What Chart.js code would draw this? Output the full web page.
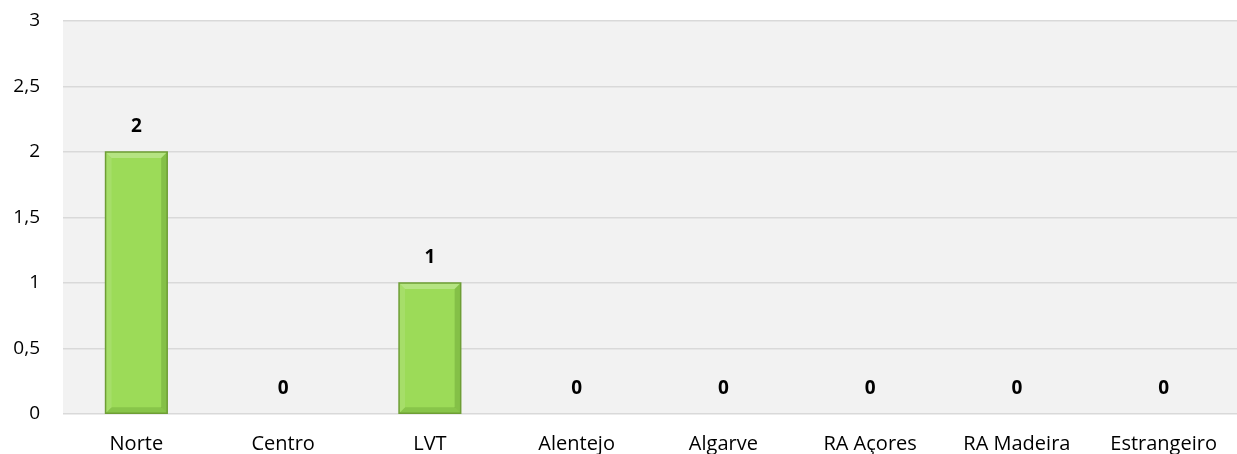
<!DOCTYPE html>
<html><head><meta charset="utf-8">
<script src="https://cdn.jsdelivr.net/npm/chart.js@4/dist/chart.umd.min.js"></script>
<style>html,body{margin:0;padding:0;background:#fff}#wrap{width:1237px;height:454px}</style>
</head><body><div id="wrap"><canvas id="c"></canvas></div>
<script>
const categories = ["Norte","Centro","LVT","Alentejo","Algarve","RA Açores","RA Madeira","Estrangeiro"];
const values = [2,0,1,0,0,0,0,0];
const yTicks = [0,0.5,1,1.5,2,2.5,3];
const yTickLabels = ["0","0,5","1","1,5","2","2,5","3"];

const FONT = "'Open Sans', sans-serif";

const bgPlugin = {
  id:'bg',
  beforeDraw(chart){
    const {ctx, chartArea:a} = chart;
    ctx.save(); ctx.fillStyle='#f2f2f2';
    ctx.fillRect(a.left,a.top,a.right-a.left,a.bottom-a.top);
    ctx.restore();
  }
};
const axisLabelPlugin = {
  id:'axlbl',
  afterDraw(chart){
    const {ctx, chartArea:a} = chart;
    const xs = chart.scales.x, ys = chart.scales.y;
    ctx.save();
    ctx.fillStyle = '#000'; ctx.textBaseline='middle';
    ctx.font = "20px " + FONT; ctx.textAlign='center';
    categories.forEach((c,i)=>{
      ctx.fillText(c, xs.getPixelForTick(i), a.bottom + 30);
    });
    ctx.font = "19px " + FONT; ctx.textAlign='right';
    yTicks.forEach((v,i)=>{
      ctx.fillText(yTickLabels[i], a.left - 23, ys.getPixelForValue(v));
    });
    ctx.restore();
  }
};
const labelPlugin = {
  id:'lbl',
  afterDatasetsDraw(chart){
    const {ctx} = chart;
    const meta = chart.getDatasetMeta(0);
    ctx.save();
    ctx.font = "bold 19px " + FONT;
    ctx.fillStyle = '#000'; ctx.textAlign='center'; ctx.textBaseline='middle';
    meta.data.forEach((bar,i)=>{
      ctx.fillText(String(values[i]), bar.x, bar.y - 25);
    });
    ctx.restore();
  }
};
const bevelPlugin = {
  id:'bevel',
  afterDatasetsDraw(chart){
    const {ctx} = chart;
    const meta = chart.getDatasetMeta(0);
    ctx.save();
    meta.data.forEach((bar,i)=>{
      if(!values[i]) return;
      const l = bar.x - bar.width/2, r = bar.x + bar.width/2, t = bar.y, b = bar.base, d = 6;
      ctx.fillStyle='rgba(255,255,255,0.25)';
      ctx.beginPath(); ctx.moveTo(l,t); ctx.lineTo(r,t); ctx.lineTo(r-d,t+d); ctx.lineTo(l+d,t+d); ctx.closePath(); ctx.fill();
      ctx.fillStyle='rgba(60,110,20,0.25)';
      ctx.beginPath(); ctx.moveTo(r,t); ctx.lineTo(r,b); ctx.lineTo(r-d,b-d); ctx.lineTo(r-d,t+d); ctx.closePath(); ctx.fill();
      ctx.fillStyle='rgba(60,110,20,0.2)';
      ctx.beginPath(); ctx.moveTo(l,b); ctx.lineTo(r,b); ctx.lineTo(r-d,b-d); ctx.lineTo(l+d,b-d); ctx.closePath(); ctx.fill();
      ctx.fillStyle='rgba(255,255,255,0.1)';
      ctx.beginPath(); ctx.moveTo(l,t); ctx.lineTo(l,b); ctx.lineTo(l+d,b-d); ctx.lineTo(l+d,t+d); ctx.closePath(); ctx.fill();
      ctx.strokeStyle='#6e9e35'; ctx.lineWidth=1.5;
      ctx.strokeRect(l,t,r-l,b-t);
    });
    ctx.restore();
  }
};

new Chart(document.getElementById('c'), {
  type:'bar',
  data:{labels:categories, datasets:[{data:values, backgroundColor:'#9cdb58', borderWidth:0, categoryPercentage:1, barPercentage:0.42}]},
  options:{
    responsive:true, maintainAspectRatio:false, animation:false,
    layout:{padding:{top:21,right:0,left:0,bottom:0}},
    plugins:{legend:{display:false}, tooltip:{enabled:false}},
    scales:{
      x:{
        grid:{display:false, drawTicks:false}, border:{display:false},
        ticks:{display:false},
        afterFit(s){ s.height = 40; }
      },
      y:{
        min:0, max:3,
        afterBuildTicks(s){ s.ticks = yTicks.map(v=>({value:v})); },
        grid:{color:'#d9d9d9', lineWidth:1.5, drawTicks:false}, border:{display:false},
        ticks:{display:false},
        afterFit(s){ s.width = 63; }
      }
    }
  },
  plugins:[bgPlugin,bevelPlugin,labelPlugin,axisLabelPlugin]
});
</script></body></html>
